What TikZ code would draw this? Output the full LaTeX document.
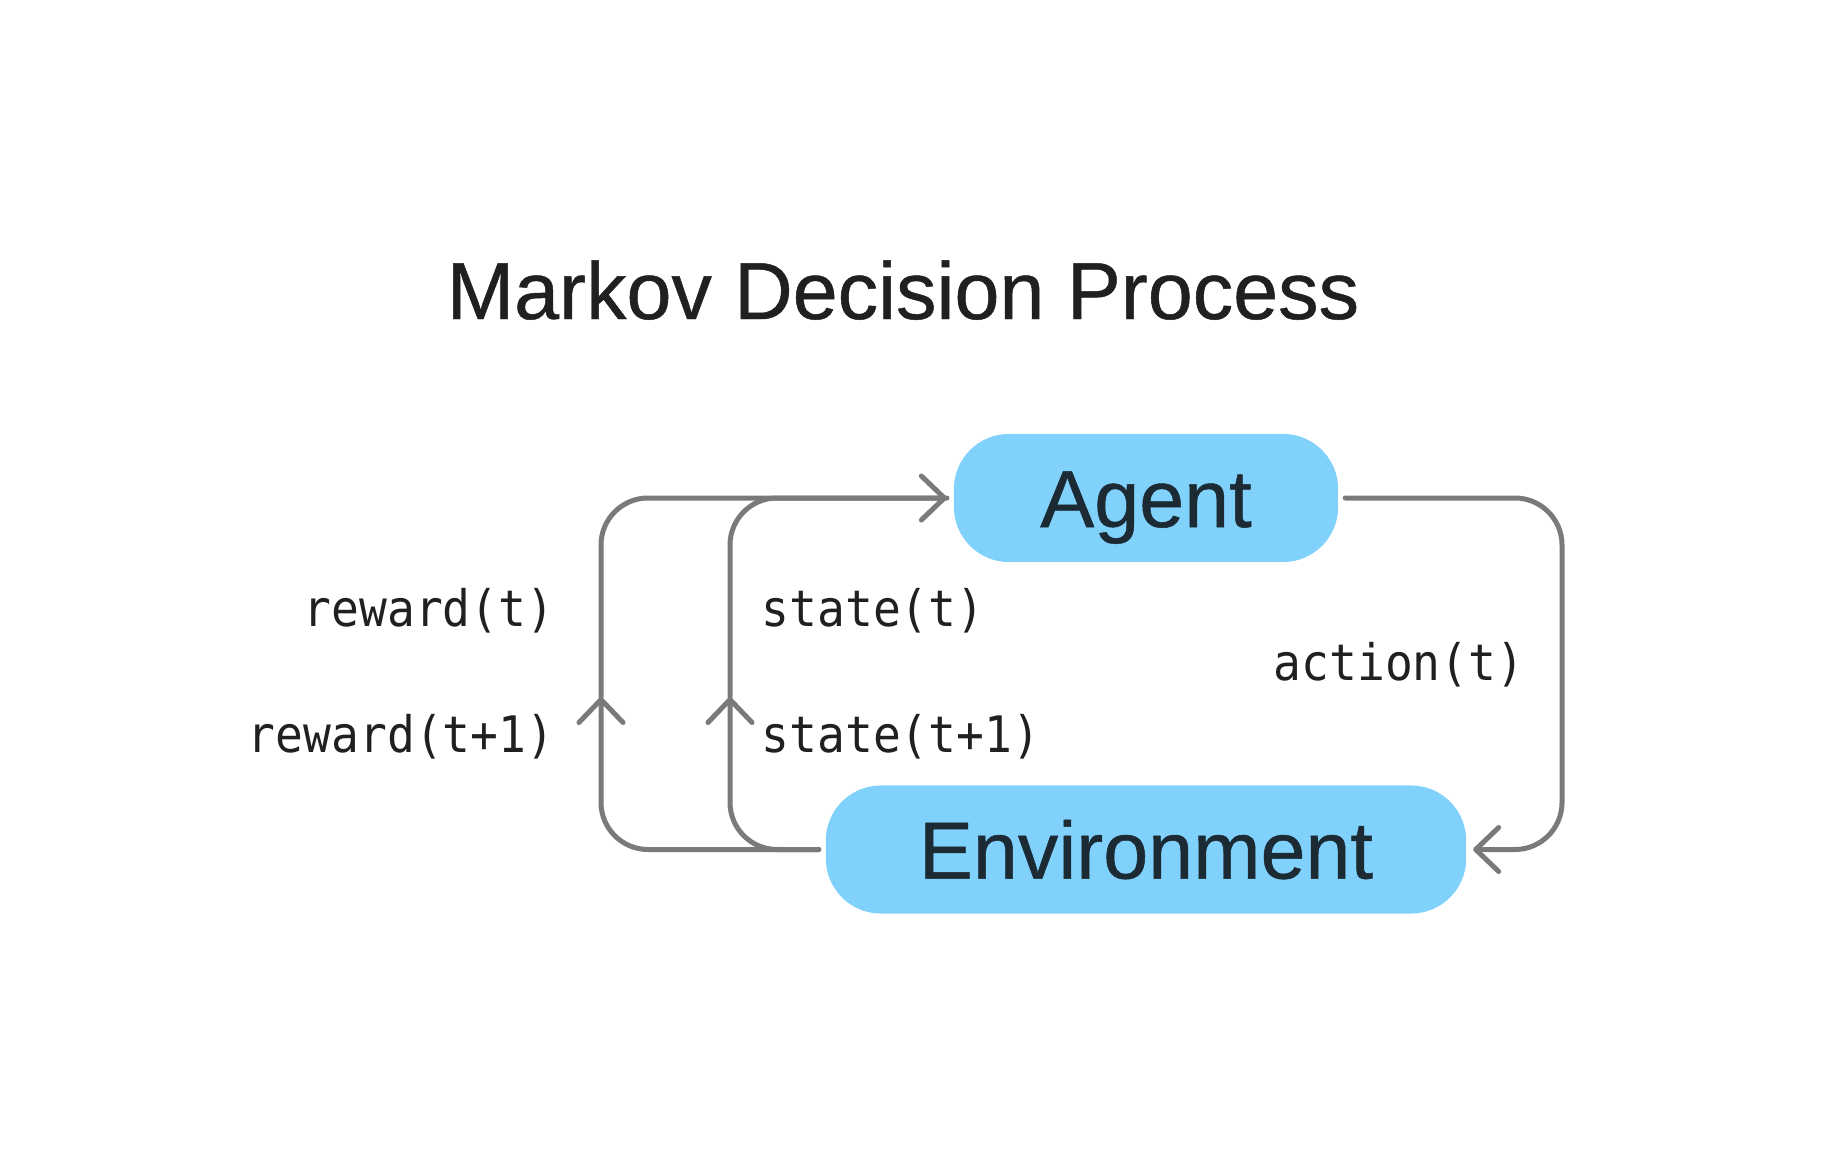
\documentclass[tikz,border=0pt]{standalone}
\usepackage{fontspec}
\setmainfont{Liberation Sans}
\newfontfamily\headfont[FakeBold=0.6]{Liberation Sans}
\newfontfamily\labelfont[FakeStretch=0.92]{DejaVu Sans Mono}
\usetikzlibrary{arrows.meta}
\definecolor{boxblue}{HTML}{80D2FC}
\definecolor{linegray}{HTML}{7A7A7A}
\definecolor{boxtext}{HTML}{1B2A33}
\definecolor{titletext}{HTML}{202020}
\begin{document}
\begin{tikzpicture}[x=0.01cm,y=-0.01cm,
  box/.style={fill=boxblue, rounded corners=0.55cm, minimum height=1.28cm, text=boxtext,
    font=\headfont\fontsize{23}{23}\selectfont, text height=0.58cm, text depth=0pt, inner sep=0pt, outer sep=0.07cm},
  lbl/.style={font=\labelfont\fontsize{14.3}{15}\selectfont, text=titletext, inner sep=0pt},
  conn/.style={draw=linegray, line width=0.05cm, rounded corners=0.47cm, line cap=round, line join=round},
  tip/.style={-{Straight Barb[length=0.23cm, width=0.44cm, line cap=round, line join=round]}}
]
\useasboundingbox (0,0) rectangle (1821,1170);
\node[font=\headfont\fontsize{23}{23}\selectfont, text=titletext, anchor=base, inner sep=0pt] (title) at (903,319) {Markov Decision Process};
\node[box, minimum width=3.84cm] (agent) at (1146,498) {Agent};
\node[box, minimum width=6.40cm] (env) at (1146,849.5) {Environment};
\coordinate (rx) at (601,697);
\coordinate (sx) at (730,697);
\coordinate (ax) at (1562,0);
\draw[conn, tip] (env.west) -- (env.west -| rx) -- (rx);
\draw[conn, tip] (rx) -- (rx |- agent.west) -- (agent.west);
\draw[conn, tip] (env.west) -- (env.west -| sx) -- (sx);
\draw[conn] (sx) -- (sx |- agent.west) -- (agent.west);
\draw[conn, tip] (agent.east) -- (agent.east -| ax) -- (ax |- env.east) -- (env.east);
\node[lbl, anchor=base east] (rt) at (555,626) {reward(t)};
\node[lbl, anchor=base east] (rt1) at (555,752) {reward(t+1)};
\node[lbl, anchor=base west] (st) at (761,626) {state(t)};
\node[lbl, anchor=base west] (st1) at (761,752) {state(t+1)};
\node[lbl, anchor=base east] (at) at (1525,680) {action(t)};
\end{tikzpicture}
\end{document}
